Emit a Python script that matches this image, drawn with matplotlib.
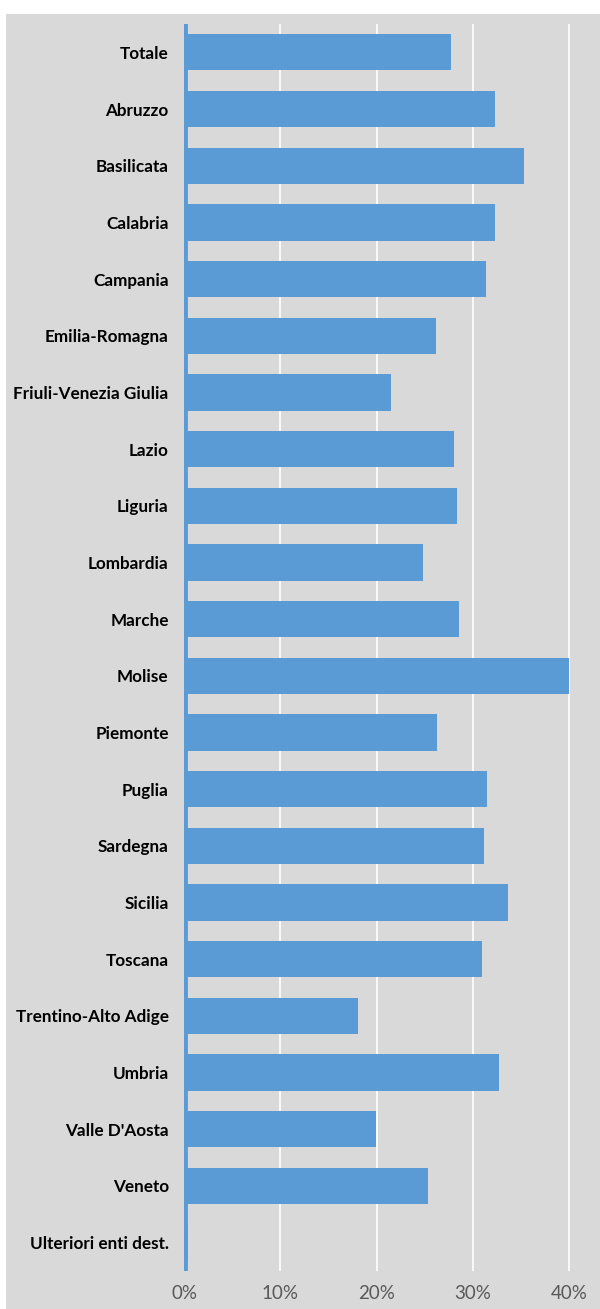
import matplotlib.pyplot as plt
from matplotlib.patches import Rectangle

regions = ["Totale", "Abruzzo", "Basilicata", "Calabria", "Campania",
           "Emilia-Romagna", "Friuli-Venezia Giulia", "Lazio", "Liguria",
           "Lombardia", "Marche", "Molise", "Piemonte", "Puglia", "Sardegna",
           "Sicilia", "Toscana", "Trentino-Alto Adige", "Umbria",
           "Valle D'Aosta", "Veneto", "Ulteriori enti dest."]
values = [27.7, 32.3, 35.3, 32.3, 31.4, 26.2, 21.5, 28.0, 28.3, 24.8, 28.6,
          40.0, 26.3, 31.5, 31.2, 33.6, 30.9, 18.1, 32.7, 19.9, 25.3, 0.4]
xticks = [0, 10, 20, 30, 40]
xticklabels = ["0%", "10%", "20%", "30%", "40%"]

bar_color = "#5b9bd5"
bg = "#d9d9d9"

fig = plt.figure(figsize=(6, 13.09), dpi=100)
fig.patch.set_facecolor("white")
fig.add_artist(Rectangle((6 / 600, 0), 1, 1 - 14 / 1309, transform=fig.transFigure,
                         facecolor=bg, edgecolor="none", zorder=0))

ax = fig.add_axes([184 / 600, 38 / 1309, 1 - 184 / 600, (1271 - 24) / 1309])
ax.set_facecolor(bg)
ax.set_zorder(1)

pos = list(range(len(regions)))
ax.barh(pos, values, height=0.64, color=bar_color, zorder=3)
ax.axvline(0.15, color=bar_color, lw=3.5, zorder=4)

ax.set_xlim(0, 43.2)
ax.set_ylim(len(regions) - 0.5, -0.5)
ax.set_xticks(xticks)
ax.set_xticklabels(xticklabels, fontsize=13.5, color="#595959", family="Lato")
ax.set_yticks(pos)
ax.set_yticklabels(regions, fontsize=12.3, fontweight="bold", family="Lato", color="black")
ax.tick_params(axis="both", length=0)
ax.tick_params(axis="y", pad=11)
ax.tick_params(axis="x", pad=10)
ax.xaxis.grid(True, color="white", lw=1.2, zorder=0)
ax.set_axisbelow(True)
for s in ax.spines.values():
    s.set_visible(False)

fig.savefig("out.png", dpi=100, facecolor=fig.get_facecolor())
